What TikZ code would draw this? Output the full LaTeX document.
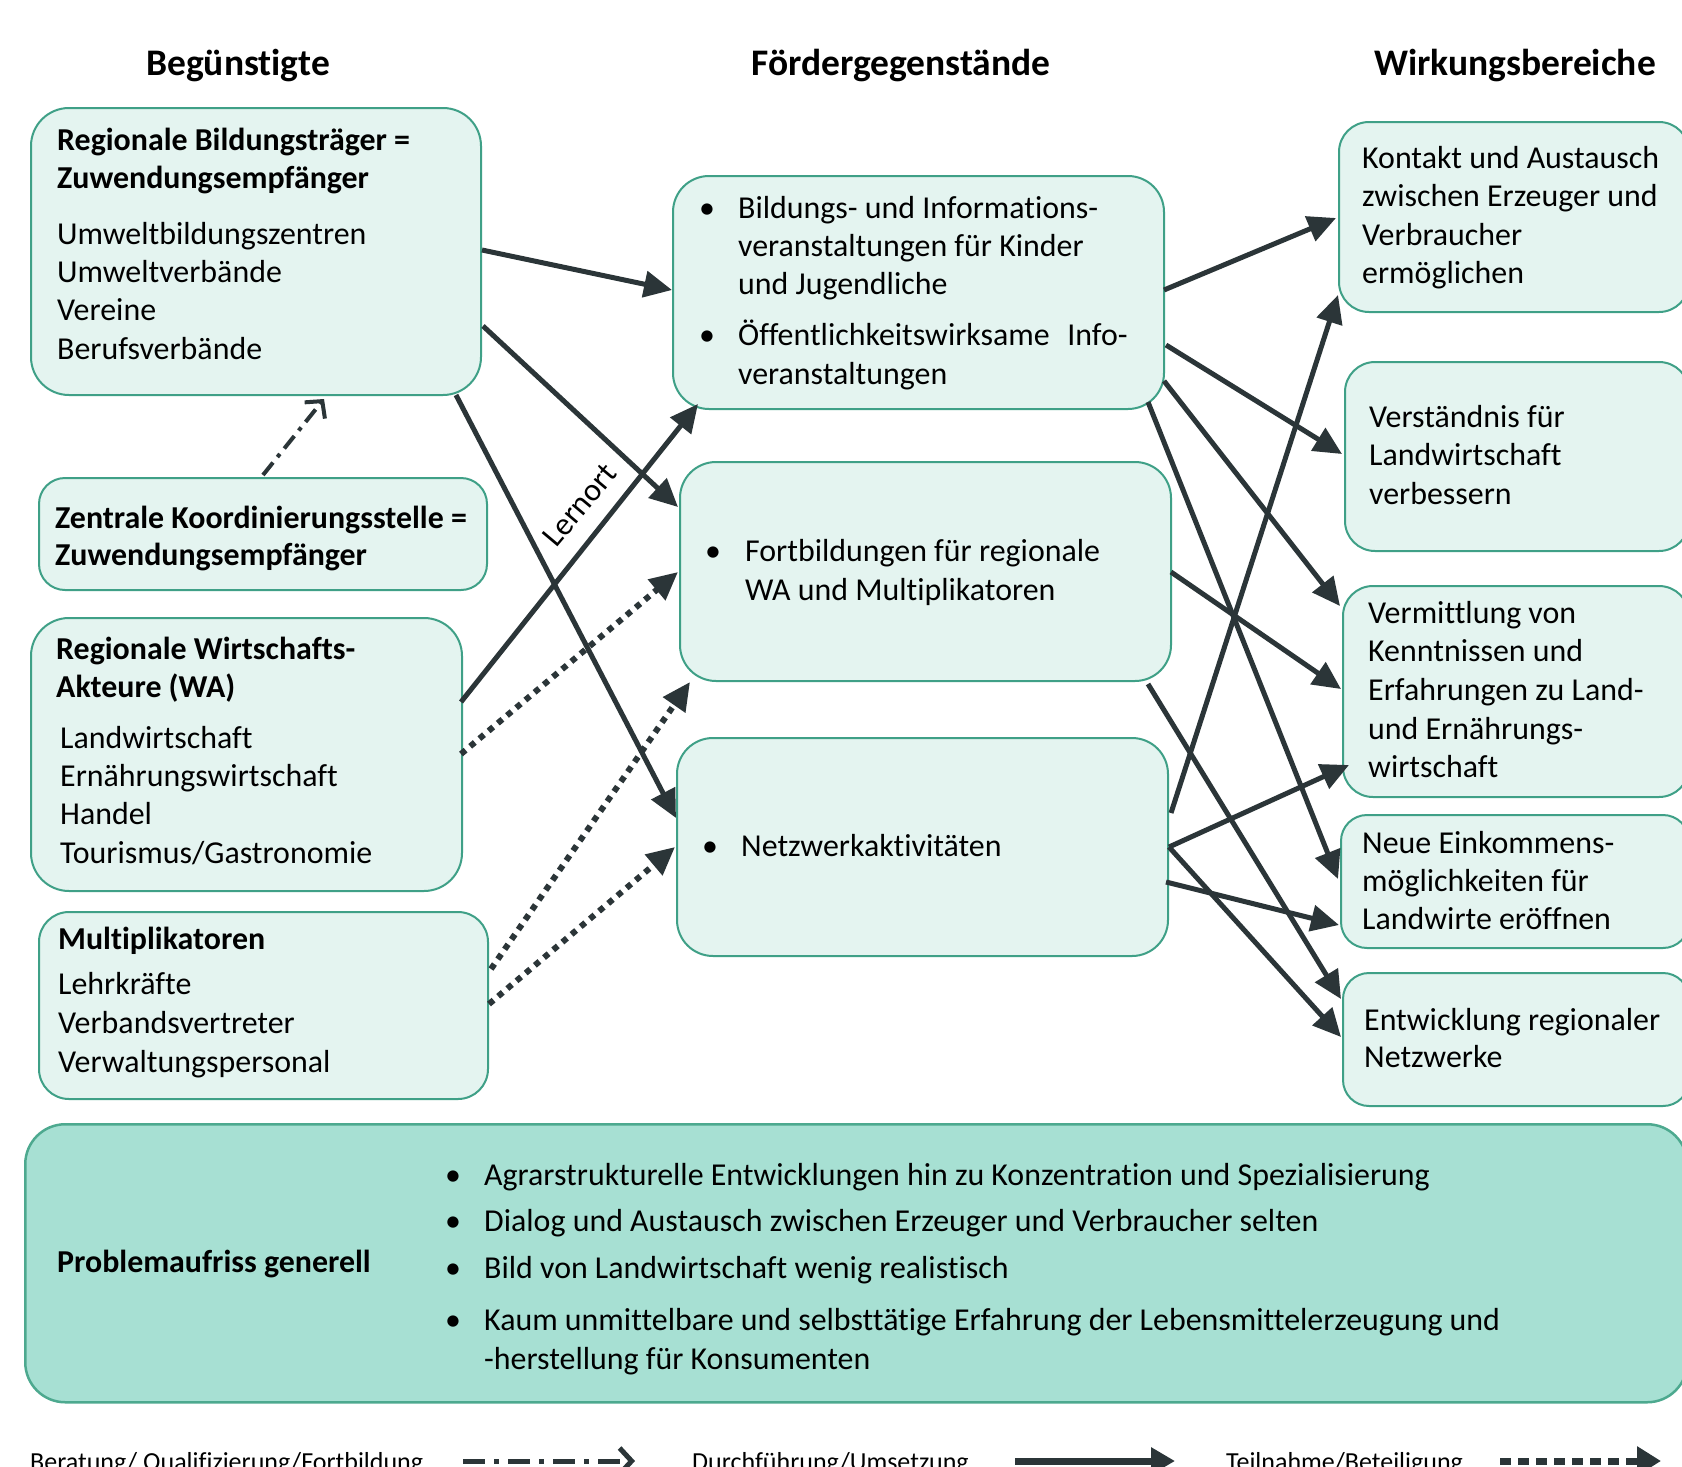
\documentclass[tikz,border=0pt]{standalone}
\usepackage{fontspec}
\setmainfont{Carlito}[Ligatures=NoCommon]
\usetikzlibrary{arrows.meta,calc}
\definecolor{boxfill}{HTML}{E4F4F0}
\definecolor{boxline}{HTML}{3FA087}
\definecolor{pfill}{HTML}{A7E0D3}
\definecolor{pline}{HTML}{4DA98F}
\definecolor{arr}{HTML}{2B3538}
\newcommand\boxlines[5]{%
  \foreach \s [count=\i] in {#5} {\node[txt] (#1-\i) at (#2,{#3+(\i-1)*#4}) {\s};}%
}
\newcommand\boldlines[5]{%
  \foreach \s [count=\i] in {#5} {\node[btxt] (#1-\i) at (#2,{#3+(\i-1)*#4}) {\s};}%
}
\begin{document}
\begin{tikzpicture}[x=1pt,y=-1pt,
  box/.style={draw=boxline, fill=boxfill, line width=2pt, rounded corners=#1, anchor=north west, inner sep=0pt},
  box/.default=36pt,
  txt/.style={anchor=base west, inner sep=0pt, font=\fontsize{31.9}{38}\selectfont},
  btxt/.style={anchor=base west, inner sep=0pt, font=\fontsize{31.9}{38}\selectfont\bfseries},
  head/.style={anchor=base, inner sep=0pt, font=\fontsize{37.5}{44}\selectfont\bfseries},
  legtxt/.style={anchor=base west, inner sep=0pt, font=\fontsize{26}{30}\selectfont},
  sol/.style={draw=arr, line width=5pt, -{Triangle[length=28pt,width=26pt]}},
  dots/.style={draw=arr, line width=6pt, dash pattern=on 6pt off 6pt, -{Triangle[length=28pt,width=26pt]}},
  dashdot/.style={draw=arr, line width=4pt, dash pattern=on 16pt off 7pt on 4pt off 7pt, -{Straight Barb[length=12pt,width=26pt]}},
]
\useasboundingbox (0,0) rectangle (1682,1467);
\fill[white] (0,0) rectangle (1682,1467);

% headings
\node[head] (h1) at (238,75) {Begünstigte};
\node[head] (h2) at (901,75) {Fördergegenstände};
\node[head] (h3) at (1515,75) {Wirkungsbereiche};

% left boxes
\node[box=38pt, minimum width=450pt, minimum height=287pt] (B1) at (30,107) {};
\node[box=26pt, minimum width=448pt, minimum height=112pt] (B2) at (38,477) {};
\node[box=38pt, minimum width=431pt, minimum height=273pt] (B3) at (30,617) {};
\node[box=30pt, minimum width=449pt, minimum height=187pt] (B4) at (38,911) {};

% middle boxes
\node[box=36pt, minimum width=491pt, minimum height=233pt] (M1) at (672,175) {};
\node[box=36pt, minimum width=491pt, minimum height=219pt] (M2) at (679,461) {};
\node[box=36pt, minimum width=491pt, minimum height=218pt] (M3) at (676,737) {};

% right boxes
\node[box=30pt, minimum width=350pt, minimum height=190pt] (R1) at (1338,121) {};
\node[box=30pt, minimum width=344pt, minimum height=189pt] (R2) at (1344,361) {};
\node[box=30pt, minimum width=346pt, minimum height=211pt] (R3) at (1342,585) {};
\node[box=26pt, minimum width=348pt, minimum height=133pt] (R4) at (1340,814) {};
\node[box=26pt, minimum width=346pt, minimum height=133pt] (R5) at (1342,972) {};

% problem box
\node[draw=pline, fill=pfill, line width=2.5pt, rounded corners=40pt, anchor=north west, inner sep=0pt,
      minimum width=1662pt, minimum height=278pt] (P) at (24,1123) {};

% texts left
\boldlines{b1b}{57}{150}{38.5}{{Regionale Bildungsträger =},{Zuwendungsempfänger}}
\boxlines{b1r}{57}{244}{38.4}{Umweltbildungszentren,Umweltverbände,Vereine,Berufsverbände}
\boldlines{b2b}{55}{528}{37.5}{{Zentrale Koordinierungsstelle =},{Zuwendungsempfänger}}
\boldlines{b3b}{56}{659}{38}{{Regionale Wirtschafts-},{Akteure (WA)}}
\boxlines{b3r}{60}{748}{38.4}{Landwirtschaft,Ernährungswirtschaft,Handel,Tourismus/Gastronomie}
\boldlines{b4b}{58}{949}{38}{Multiplikatoren}
\boxlines{b4r}{58}{994}{39}{Lehrkräfte,Verbandsvertreter,Verwaltungspersonal}

% texts middle
\node[txt] (m1d1) at (699,218) {•};
\node[txt] (m1d2) at (699,345) {•};
\boxlines{m1a}{738}{218}{38}{{Bildungs- und Informations-},{veranstaltungen für Kinder},{und Jugendliche}}
\boxlines{m1b}{738}{345}{39}{{Öffentlichkeitswirksame\hspace{0.55em}Info-},veranstaltungen}
\node[txt] (m2d) at (705,561) {•};
\boxlines{m2a}{745}{561}{39}{{Fortbildungen für regionale},{WA und Multiplikatoren}}
\node[txt] (m3d) at (702,856) {•};
\node[txt] (m3a) at (741,856) {Netzwerkaktivitäten};

% texts right
\boxlines{r1}{1362}{168}{38.5}{{Kontakt und Austausch},{zwischen Erzeuger und},Verbraucher,ermöglichen}
\boxlines{r2}{1369}{427}{38.5}{{Verständnis für},Landwirtschaft,verbessern}
\boxlines{r3}{1368}{623}{38.7}{{Vermittlung von},{Kenntnissen und},{Erfahrungen zu Land-},{und Ernährungs-},wirtschaft}
\boxlines{r4}{1362}{853}{38}{{Neue Einkommens-},{möglichkeiten für},{Landwirte eröffnen}}
\boxlines{r5}{1364}{1030}{37.5}{{Entwicklung regionaler},Netzwerke}

% problem texts
\node[btxt] (pt) at (57,1272) {Problemaufriss generell};
\node[txt] (pd1) at (445,1185) {•};
\node[txt] (pd2) at (445,1231) {•};
\node[txt] (pd3) at (445,1278) {•};
\node[txt] (pd4) at (445,1330) {•};
\node[txt] (p1) at (484,1185) {Agrarstrukturelle Entwicklungen hin zu Konzentration und Spezialisierung};
\node[txt] (p2) at (484,1231) {Dialog und Austausch zwischen Erzeuger und Verbraucher selten};
\node[txt] (p3) at (484,1278) {Bild von Landwirtschaft wenig realistisch};
\node[txt] (p4) at (484,1330) {Kaum unmittelbare und selbsttätige Erfahrung der Lebensmittelerzeugung und};
\node[txt] (p5) at (484,1369) {-herstellung für Konsumenten};

% Lernort label
\node[inner sep=0pt, rotate=50, font=\fontsize{32}{36}\selectfont] (lern) at (580,505) {Lernort};

% arrows left -> middle
\draw[sol] ($(B1.north west)+(452,143)$) -- ($(M1.north west)+(0,115)$);
\draw[sol] ($(B1.north west)+(453,219)$) -- ($(M2.north west)+(-1,46)$);
\draw[sol] ($(B1.north west)+(426,288)$) -- ($(M3.north west)+(0,81)$);
\draw[dashdot] ($(B2.north west)+(225,-2)$) -- ($(B1.north west)+(294,292)$);
\draw[sol] ($(B3.north west)+(431,85)$) -- ($(M1.north west)+(26,229)$);
\draw[dots] ($(B3.north west)+(431,137)$) -- ($(M2.north west)+(-1,111)$);
\draw[dots] ($(B4.north west)+(453,58)$) -- ($(M2.north west)+(11,221)$);
\draw[dots] ($(B4.north west)+(451,93)$) -- ($(M3.north west)+(-1,110)$);

% arrows middle -> right
\draw[sol] ($(M1.north west)+(492,115)$) -- ($(R1.north west)+(-2,97)$);
\draw[sol] ($(M1.north west)+(494,170)$) -- ($(R2.north west)+(-2,93)$);
\draw[sol] ($(M1.north west)+(492,206)$) -- ($(R3.north west)+(-2,21)$);
\draw[sol] ($(M1.north west)+(476,227)$) -- ($(R4.north west)+(-2,65)$);
\draw[sol] ($(M2.north west)+(492,111)$) -- ($(R3.north west)+(-1,104)$);
\draw[sol] ($(M2.north west)+(469,223)$) -- ($(R5.north west)+(-1,27)$);
\draw[sol] ($(M3.north west)+(495,76)$) -- ($(R1.north west)+(0,174)$);
\draw[sol] ($(M3.north west)+(493,110)$) -- ($(R3.north west)+(7,180)$);
\draw[sol] ($(M3.north west)+(493,110)$) -- ($(R5.north west)+(-1,65)$);
\draw[sol] ($(M3.north west)+(490,145)$) -- ($(R4.north west)+(-1,111)$);

% legend
\node[legtxt] (lg1) at (30,1470) {Beratung/ Qualifizierung/Fortbildung};
\node[legtxt] (lg2) at (692,1470) {Durchführung/Umsetzung};
\node[legtxt] (lg3) at (1226,1470) {Teilnahme/Beteiligung};
\coordinate (la1) at (463,1461); \coordinate (la2) at (635,1461);
\coordinate (lb1) at (1015,1461); \coordinate (lb2) at (1175,1461);
\coordinate (lc1) at (1500,1461); \coordinate (lc2) at (1661,1461);
\draw[dashdot, line width=5pt, dash pattern=on 22pt off 9pt on 5pt off 9pt] (la1) -- (la2);
\draw[draw=arr, line width=7pt, -{Triangle[length=24pt,width=26pt]}] (lb1) -- (lb2);
\draw[draw=arr, line width=7pt, dash pattern=on 11pt off 7pt, -{Triangle[length=24pt,width=28pt]}] (lc1) -- (lc2);
\end{tikzpicture}
\end{document}
